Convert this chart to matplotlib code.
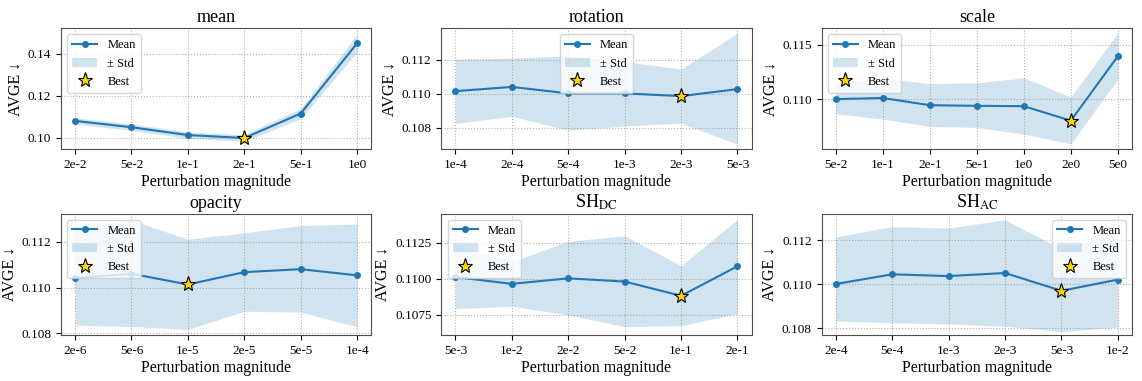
import matplotlib
matplotlib.use("Agg")
import matplotlib.pyplot as plt
from matplotlib.lines import Line2D
from matplotlib.patches import Patch

plt.rcParams['font.family'] = ['Liberation Serif', 'DejaVu Serif']
plt.rcParams['mathtext.fontset'] = 'stix'

# Data
titles = ["mean", "rotation", "scale", "opacity", r"SH$_{\mathrm{DC}}$", r"SH$_{\mathrm{AC}}$"]

mean_labels = ["2e-2", "5e-2", "1e-1", "2e-1", "5e-1", "1e0"]
mean_vals = [0.1081, 0.1051, 0.1014, 0.1000, 0.1116, 0.1449]
mean_std = [0.0015, 0.0015, 0.0015, 0.0016, 0.0024, 0.0042]

rot_labels = ["1e-4", "2e-4", "5e-4", "1e-3", "2e-3", "5e-3"]
rot_vals = [0.11015, 0.1104, 0.11002, 0.11002, 0.10986, 0.11027]
rot_upper = [0.11203, 0.1121, 0.11221, 0.1119, 0.11144, 0.11356]
rot_lower = [0.10826, 0.10867, 0.10786, 0.1081, 0.10827, 0.10703]

scale_labels = ["5e-2", "1e-1", "2e-1", "5e-1", "1e0", "2e0", "5e0"]
scale_vals = [0.1100, 0.1101, 0.10944, 0.10938, 0.10935, 0.10802, 0.11394]
scale_upper = [0.11145, 0.1119, 0.11143, 0.1115, 0.11196, 0.11019, 0.11609]
scale_lower = [0.10864, 0.10817, 0.10749, 0.1074, 0.10678, 0.1059, 0.11183]

opa_labels = ["2e-6", "5e-6", "1e-5", "2e-5", "5e-5", "1e-4"]
opa_vals = [0.11042, 0.11061, 0.11014, 0.11068, 0.11081, 0.11054]
opa_upper = [0.1126, 0.11295, 0.11212, 0.1124, 0.11272, 0.11278]
opa_lower = [0.10836, 0.1083, 0.10817, 0.10897, 0.10893, 0.10829]

shdc_labels = ["5e-3", "1e-2", "2e-2", "5e-2", "1e-1", "2e-1"]
shdc_vals = [0.11013, 0.10966, 0.11004, 0.10982, 0.10883, 0.11088]
shdc_upper = [0.1123, 0.1112, 0.11261, 0.11299, 0.11092, 0.11412]
shdc_lower = [0.10793, 0.10811, 0.1075, 0.10669, 0.10676, 0.10759]

shac_labels = ["2e-4", "5e-4", "1e-3", "2e-3", "5e-3", "1e-2"]
shac_vals = [0.11001, 0.11045, 0.11037, 0.11051, 0.1097, 0.11021]
shac_upper = [0.11215, 0.11262, 0.11255, 0.11293, 0.1116, 0.11235]
shac_lower = [0.10833, 0.10825, 0.10819, 0.10809, 0.10784, 0.10805]

mean_upper = [m + s for m, s in zip(mean_vals, mean_std)]
mean_lower = [m - s for m, s in zip(mean_vals, mean_std)]

panels = [
    (mean_labels, mean_vals, mean_upper, mean_lower, [0.10, 0.12, 0.14], "{:.2f}", (0.0946, 0.1521), "upper left"),
    (rot_labels, rot_vals, rot_upper, rot_lower, [0.108, 0.110, 0.112], "{:.3f}", (0.10673, 0.11386), "upper center"),
    (scale_labels, scale_vals, scale_upper, scale_lower, [0.110, 0.115], "{:.3f}", (0.10538, 0.11653), "upper left"),
    (opa_labels, opa_vals, opa_upper, opa_lower, [0.108, 0.110, 0.112], "{:.3f}", (0.10793, 0.11324), "upper left"),
    (shdc_labels, shdc_vals, shdc_upper, shdc_lower, [0.1075, 0.1100, 0.1125], "{:.4f}", (0.10611, 0.11453), "upper left"),
    (shac_labels, shac_vals, shac_upper, shac_lower, [0.108, 0.110, 0.112], "{:.3f}", (0.10769, 0.11321), "upper right"),
]

blue = "#1f77b4"

fig, axes = plt.subplots(2, 3, figsize=(11.42, 3.81), dpi=100)
fig.subplots_adjust(left=0.0534, right=0.9912, top=0.9265, bottom=0.1207, wspace=0.226, hspace=0.529)

for ax, title, (labels, vals, upper, lower, yt, fmt, ylim, loc) in zip(axes.flat, titles, panels):
    x = list(range(len(labels)))
    ax.fill_between(x, lower, upper, color=blue, alpha=0.2, linewidth=0)
    ax.plot(x, vals, color=blue, marker="o", markersize=4, linewidth=1.5)
    best = min(range(len(vals)), key=lambda i: vals[i])
    ax.plot(x[best], vals[best], marker="*", markersize=11, color="gold",
            markeredgecolor="black", markeredgewidth=0.8, linestyle="none", zorder=5)
    ax.set_xticks(x)
    ax.set_xticklabels(labels, fontsize=9.5)
    ax.set_yticks(yt)
    ax.set_yticklabels([fmt.format(v) for v in yt], fontsize=9.5)
    ax.set_ylim(*ylim)
    ax.set_title(title, fontsize=13, pad=4)
    ax.set_xlabel("Perturbation magnitude", fontsize=11.5, labelpad=2)
    ax.set_ylabel("AVGE ↓", fontsize=11.5, labelpad=3)
    ax.grid(True, linestyle=":", color="gray", alpha=0.6, linewidth=0.8)
    for sp in ax.spines.values():
        sp.set_color("0.3")
    handles = [
        Line2D([], [], color=blue, marker="o", markersize=4, linewidth=1.5),
        Patch(facecolor=blue, alpha=0.2, linewidth=0),
        Line2D([], [], marker="*", markersize=11, color="gold", markeredgecolor="black",
               markeredgewidth=0.8, linestyle="none"),
    ]
    ax.legend(handles, ["Mean", "± Std", "Best"], loc=loc, fontsize=9)

fig.savefig("out.png", dpi=100)
